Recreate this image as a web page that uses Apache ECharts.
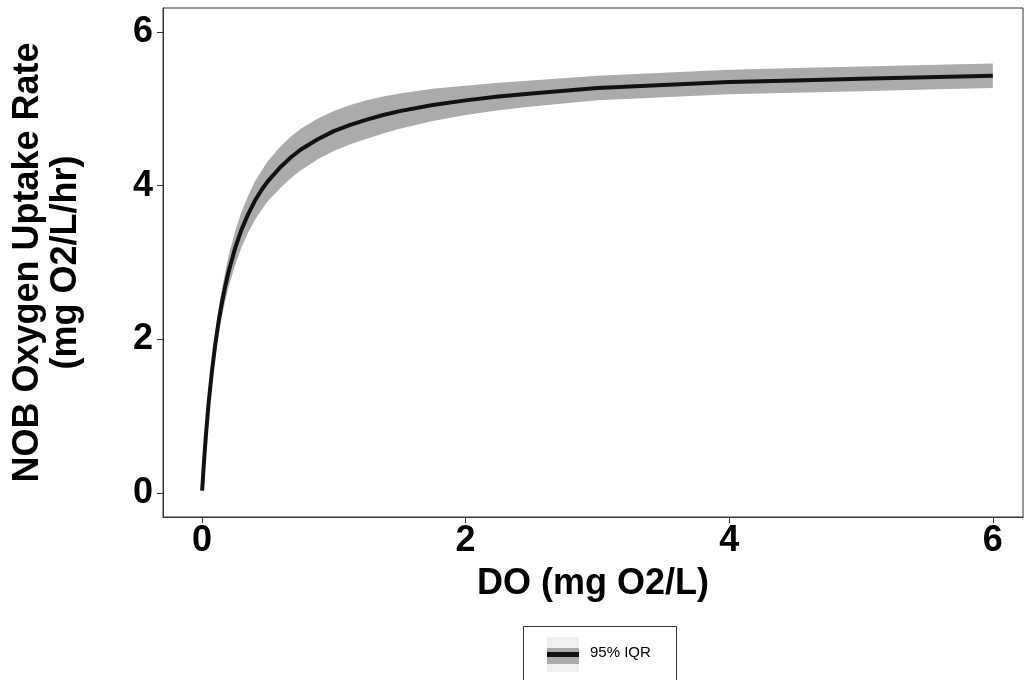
<!DOCTYPE html>
<html>
<head>
<meta charset="utf-8">
<script src="https://cdn.jsdelivr.net/npm/echarts@6/dist/echarts.min.js"></script>
<style>
html,body{margin:0;padding:0;background:#fff;}
#chart{width:1024px;height:680px;}
</style>
</head>
<body>
<div id="chart"></div>
<script>
// DO values (mg O2/L)
var xValues = [0.001, 0.005, 0.01, 0.02, 0.03, 0.05, 0.075, 0.1, 0.125, 0.15, 0.175, 0.2, 0.25, 0.3, 0.35, 0.4, 0.45, 0.5, 0.6, 0.675, 0.75, 0.875, 1.0, 1.125, 1.25, 1.375, 1.5, 1.75, 2.0, 2.25, 2.5, 3.0, 3.5, 4.0, 4.5, 5.0, 5.5, 6.0];
// median uptake rate
var medianValues = [0.03, 0.14, 0.28, 0.53, 0.76, 1.17, 1.58, 1.93, 2.22, 2.47, 2.68, 2.87, 3.18, 3.43, 3.63, 3.80, 3.94, 4.06, 4.25, 4.37, 4.47, 4.60, 4.71, 4.79, 4.86, 4.92, 4.97, 5.05, 5.11, 5.16, 5.20, 5.27, 5.31, 5.35, 5.37, 5.39, 5.41, 5.43];
// 95% IQR band
var lowerValues = [0.025, 0.125, 0.25, 0.48, 0.69, 1.07, 1.45, 1.78, 2.06, 2.29, 2.49, 2.67, 2.96, 3.20, 3.39, 3.55, 3.68, 3.80, 3.98, 4.10, 4.20, 4.34, 4.45, 4.54, 4.61, 4.68, 4.74, 4.84, 4.92, 4.98, 5.03, 5.11, 5.15, 5.19, 5.21, 5.23, 5.25, 5.27];
var upperValues = [0.035, 0.155, 0.31, 0.58, 0.83, 1.27, 1.71, 2.08, 2.39, 2.65, 2.87, 3.07, 3.40, 3.66, 3.87, 4.05, 4.19, 4.32, 4.52, 4.64, 4.74, 4.87, 4.97, 5.05, 5.11, 5.16, 5.20, 5.26, 5.30, 5.34, 5.37, 5.43, 5.47, 5.51, 5.53, 5.55, 5.57, 5.59];
var xTicks = [0, 2, 4, 6];
var yTicks = [0, 2, 4, 6];
var legendLabel = '95% IQR';

var chart = echarts.init(document.getElementById('chart'));
var lineData = xValues.map(function (x, i) { return [x, medianValues[i]]; });

var font = 'Liberation Sans, Arial, sans-serif';
var option = {
  animation: false,
  backgroundColor: '#fff',
  grid: { left: 163, top: 8, right: 1, bottom: 163, containLabel: false, outerBoundsMode: 'none', show: true, borderColor: '#333', borderWidth: 1, backgroundColor: 'transparent' },
  xAxis: {
    type: 'value', min: -0.296, max: 6.229,
    splitLine: { show: false },
    axisLine: { show: true, onZero: false, lineStyle: { color: '#333', width: 1 } },
    axisTick: { show: true, length: 6, customValues: xTicks, lineStyle: { color: '#333' } },
    axisLabel: { customValues: xTicks, color: '#000', fontSize: 36, fontWeight: 'bold', fontFamily: font, margin: 6 },
    name: 'DO (mg O2/L)', nameLocation: 'middle', nameGap: 49,
    nameTextStyle: { color: '#000', fontSize: 36, fontWeight: 'bold', fontFamily: font, verticalAlign: 'top' }
  },
  yAxis: {
    type: 'value', min: -0.312, max: 6.312,
    splitLine: { show: false },
    axisLine: { show: true, onZero: false, lineStyle: { color: '#333', width: 1 } },
    axisTick: { show: true, length: 6, customValues: yTicks, lineStyle: { color: '#333' } },
    axisLabel: { customValues: yTicks, color: '#000', fontSize: 36, fontWeight: 'bold', fontFamily: font, margin: 10 },
    name: 'NOB Oxygen Uptake Rate\n(mg O2/L/hr)', nameLocation: 'middle', nameGap: 78, nameRotate: 90,
    nameTextStyle: { color: '#000', fontSize: 36, fontWeight: 'bold', fontFamily: font, lineHeight: 38, align: 'center', verticalAlign: 'bottom' }
  },
  series: [
    {
      type: 'custom',
      data: [0],
      z: 1,
      silent: true,
      renderItem: function (params, api) {
        var pts = [];
        for (var i = 0; i < xValues.length; i++) pts.push(api.coord([xValues[i], upperValues[i]]));
        for (var j = xValues.length - 1; j >= 0; j--) pts.push(api.coord([xValues[j], lowerValues[j]]));
        return { type: 'polygon', shape: { points: pts, smooth: 0 }, style: { fill: '#ababab', stroke: null } };
      }
    },
    {
      type: 'line',
      data: lineData,
      z: 2,
      showSymbol: false,
      smooth: false,
      lineStyle: { color: '#111', width: 4, join: 'round' },
      silent: true
    }
  ],
  graphic: [
    { type: 'rect', shape: { x: 523.5, y: 626.5, width: 153, height: 70 }, style: { fill: '#fff', stroke: '#333', lineWidth: 1 } },
    { type: 'rect', shape: { x: 547, y: 637, width: 32, height: 35 }, style: { fill: '#f0f0f0' } },
    { type: 'rect', shape: { x: 547, y: 648, width: 32, height: 16 }, style: { fill: '#ababab' } },
    { type: 'rect', shape: { x: 547, y: 652, width: 32, height: 5 }, style: { fill: '#111' } },
    { type: 'text', left: 590, top: 645, style: { text: legendLabel, fontSize: 15, fontFamily: font, fill: '#000' } }
  ]
};
chart.setOption(option);
</script>
</body>
</html>
